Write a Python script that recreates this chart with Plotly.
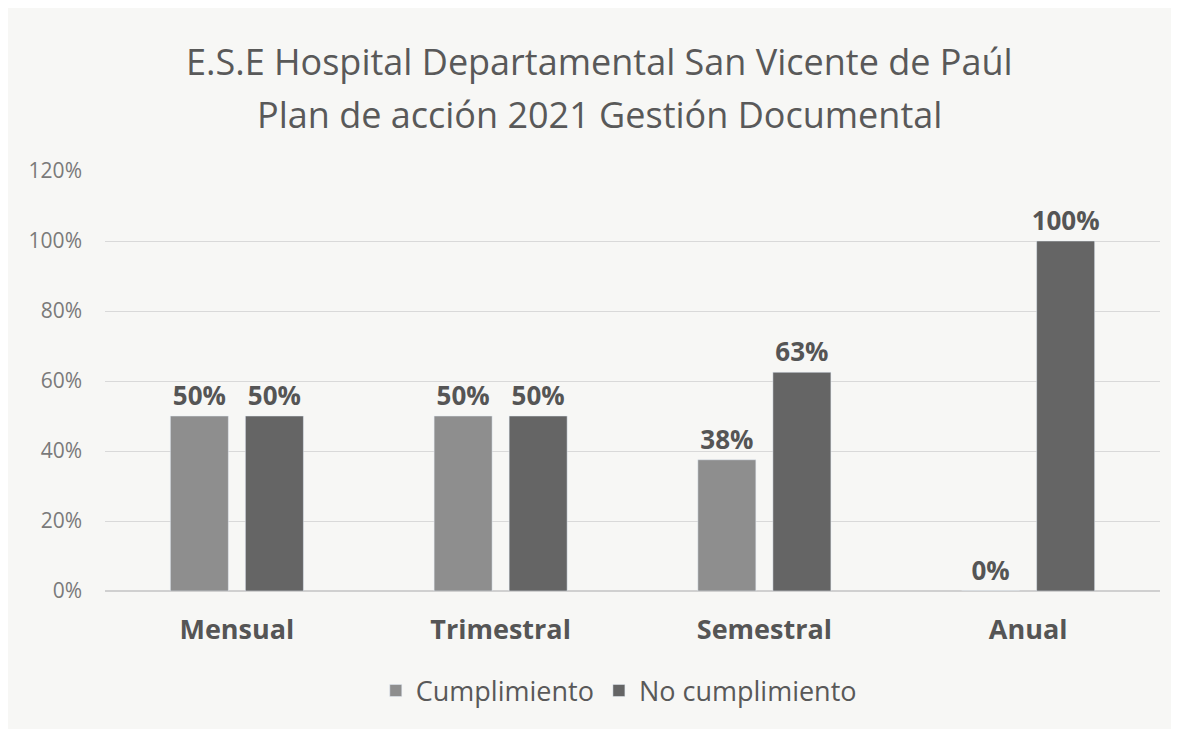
import plotly.graph_objects as go
from decimal import Decimal, ROUND_HALF_UP

categories = ["Mensual", "Trimestral", "Semestral", "Anual"]
cumplimiento = [0.50, 0.50, 0.375, 0.0]
no_cumplimiento = [0.50, 0.50, 0.625, 1.0]
y_ticks = [0, 0.2, 0.4, 0.6, 0.8, 1.0, 1.2]
title_lines = ["E.S.E Hospital Departamental San Vicente de Paúl",
               "Plan de acción 2021 Gestión Documental"]

FONT = "'Open Sans', sans-serif"


def pct(v):
    return f"{Decimal(str(v * 100)).quantize(Decimal('1'), rounding=ROUND_HALF_UP)}%"


label_font = dict(size=26, color="#555555", family=FONT, weight="bold")

fig = go.Figure()
fig.add_trace(go.Bar(
    name="Cumplimiento", x=categories, y=cumplimiento,
    marker=dict(color="#8e8e8e"),
    text=[pct(v) for v in cumplimiento], textposition="outside",
    textfont=label_font, cliponaxis=False, constraintext="none",
))
fig.add_trace(go.Bar(
    name="No cumplimiento", x=categories, y=no_cumplimiento,
    marker=dict(color="#656565"),
    text=[pct(v) for v in no_cumplimiento], textposition="outside",
    textfont=label_font, cliponaxis=False, constraintext="none",
))

# page body has an 8px margin; compensate so the plot lands where the reference is
fig.update_layout(
    width=1171, height=721,
    paper_bgcolor="#f7f7f5", plot_bgcolor="#f7f7f5",
    margin=dict(l=97, r=19, t=163, b=138),
    barmode="group", bargap=0.431, bargroupgap=0.227,
    font=dict(family=FONT, color="#595959"),
    uniformtext=dict(mode=False),
    legend=dict(
        orientation="h", x=0.487, xanchor="center", y=-0.238, yanchor="middle",
        font=dict(size=27, color="#595959", family=FONT),
        itemwidth=30, traceorder="normal",
    ),
    showlegend=True,
    annotations=[
        dict(text=title_lines[0], xref="paper", yref="paper", x=0.469, y=1.261,
             xanchor="center", yanchor="middle", showarrow=False,
             font=dict(size=36, color="#595959", family=FONT)),
        dict(text=title_lines[1], xref="paper", yref="paper", x=0.469, y=1.135,
             xanchor="center", yanchor="middle", showarrow=False,
             font=dict(size=36, color="#595959", family=FONT)),
    ],
)
fig.update_yaxes(
    range=[0, 1.2], tickvals=y_ticks, tickformat=".0%",
    showgrid=True, gridcolor="#d9d9d9", gridwidth=1,
    zeroline=True, zerolinecolor="#d0d0d0",
    tickfont=dict(size=21, color="#7a7a7a", family=FONT),
    ticklabelstandoff=22,
)
fig.update_xaxes(
    showline=False,
    tickfont=dict(size=27, color="#555555", family=FONT, weight="bold"),
    ticklabelstandoff=20,
)

fig.write_html("out.html")
